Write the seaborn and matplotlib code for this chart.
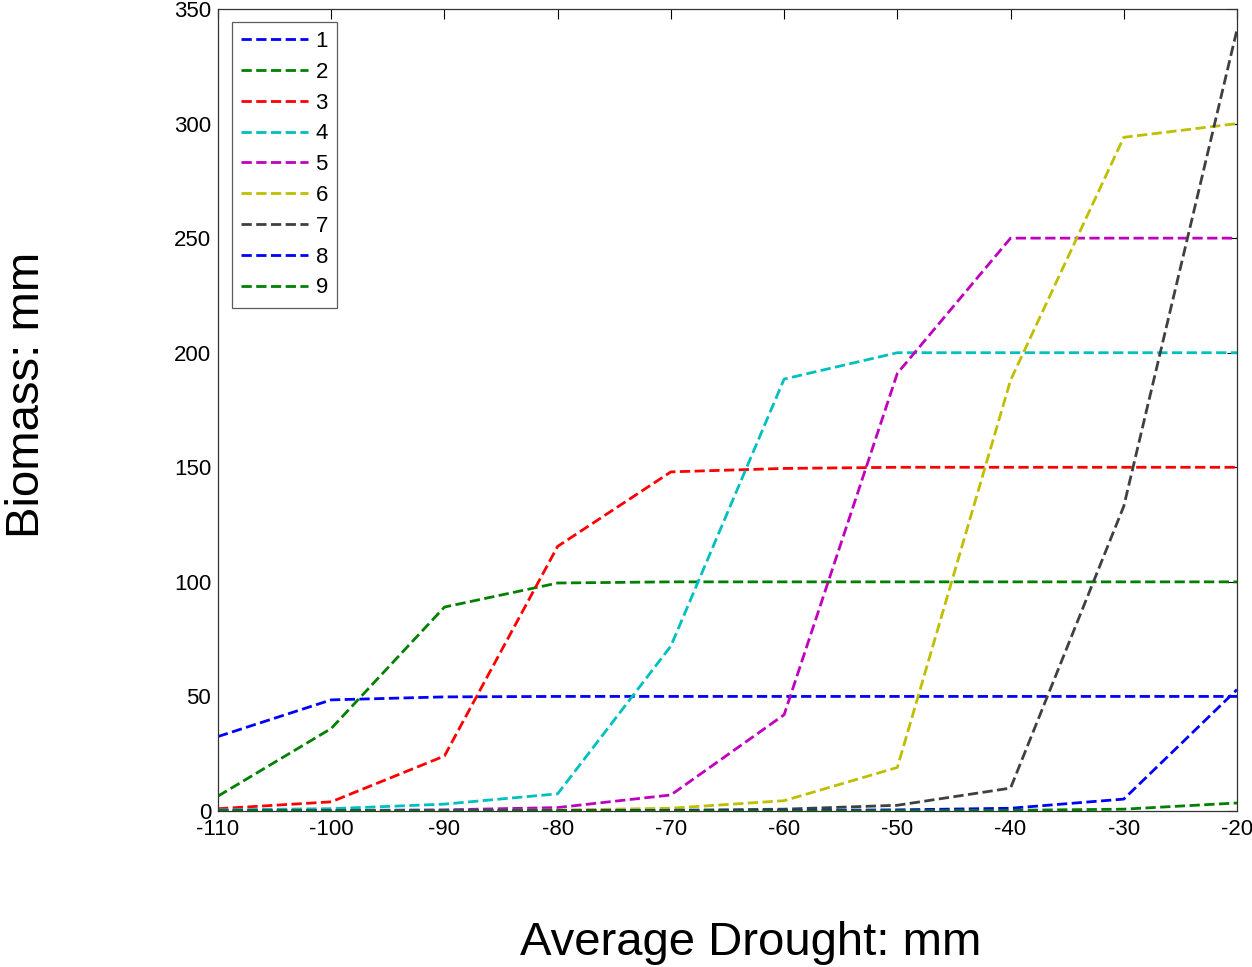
import matplotlib
matplotlib.use("Agg")
import matplotlib.pyplot as plt
import seaborn as sns
import pandas as pd

drought = [-110, -100, -90, -80, -70, -60, -50, -40, -30, -20]
series_names = ["1", "2", "3", "4", "5", "6", "7", "8", "9"]
s1 = [32.5, 48.5, 49.8, 50, 50, 50, 50, 50, 50, 50]
s2 = [6.5, 36, 89, 99.5, 100, 100, 100, 100, 100, 100]
s3 = [1, 4, 24, 115.5, 148, 149.5, 150, 150, 150, 150]
s4 = [0.5, 1, 3, 7.5, 72, 188.5, 200, 200, 200, 200]
s5 = [0.1, 0.2, 0.5, 1.5, 7, 42, 191, 250, 250, 250]
s6 = [0.1, 0.1, 0.2, 0.4, 1.2, 4.5, 19, 188, 294, 300]
s7 = [0.05, 0.05, 0.1, 0.1, 0.3, 0.8, 2.5, 10, 133, 341]
s8 = [0.02, 0.02, 0.03, 0.05, 0.1, 0.2, 0.5, 1.2, 5.2, 53]
s9 = [0.01, 0.01, 0.01, 0.02, 0.03, 0.05, 0.1, 0.3, 0.8, 3.5]
all_series = [s1, s2, s3, s4, s5, s6, s7, s8, s9]
colors = [(0, 0, 1), (0, 0.5, 0), (1, 0, 0), (0, 0.75, 0.75), (0.75, 0, 0.75),
          (0.75, 0.75, 0), (0.25, 0.25, 0.25), (0, 0, 1), (0, 0.5, 0)]

sns.set_style("white")
plt.rcParams['font.family'] = ['Liberation Sans', 'DejaVu Sans']
plt.rcParams['axes.unicode_minus'] = False
plt.rcParams['text.color'] = 'black'
plt.rcParams['axes.labelcolor'] = 'black'

fig = plt.figure(figsize=(12.52, 9.67), dpi=100)
ax = fig.add_axes([218 / 1252, 1 - 811 / 967, 1019 / 1252, 802 / 967])

for name, vals, c in zip(series_names, all_series, colors):
    df = pd.DataFrame({"x": drought, "y": vals})
    sns.lineplot(data=df, x="x", y="y", color=c, linestyle="--", linewidth=2.0,
                 dashes=False, label=name, ax=ax)

ax.set_xlim(-110, -20)
ax.set_ylim(0, 350)
ax.set_xticks(drought)
ax.set_yticks(range(0, 351, 50))
ax.tick_params(direction="in", length=7, width=0.8, top=True, right=True,
               labelsize=16, colors="black", labelcolor="black")
ax.tick_params(axis="x", pad=6)
ax.tick_params(axis="y", pad=5)
for sp in ax.spines.values():
    sp.set_visible(True)
    sp.set_color("#333333")
    sp.set_linewidth(0.9)

ax.set_xlabel("Average Drought: mm", fontsize=34, color="black")
ax.set_ylabel("Biomass: mm", fontsize=34, color="black")
ax.xaxis.set_label_coords(0.523, -0.165)
ax.xaxis.label.set_va("center")
ax.yaxis.set_label_coords(-0.187, 0.519)
ax.yaxis.label.set_va("center")

leg = ax.legend(loc="upper left", bbox_to_anchor=(0.0135, 0.984), fontsize=16,
                frameon=True, fancybox=False, edgecolor="#333333",
                handlelength=3.0, handletextpad=0.35, labelspacing=0.44,
                borderpad=0.42, borderaxespad=0.0)
leg.get_frame().set_linewidth(0.9)
for t in leg.get_texts():
    t.set_color("black")

fig.savefig("out.png", dpi=100, facecolor="white")
